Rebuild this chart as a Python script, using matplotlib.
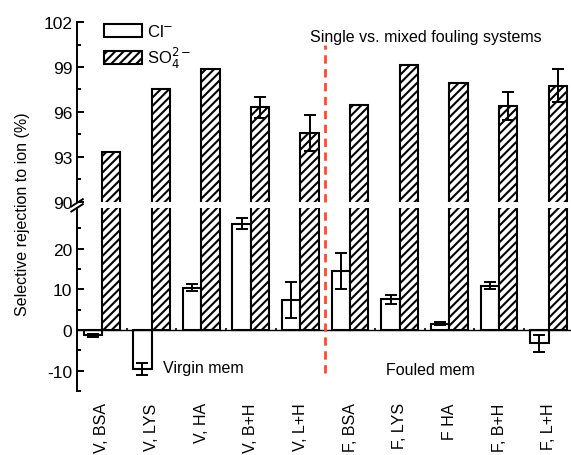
import numpy as np
import matplotlib
matplotlib.use('Agg')
import matplotlib.pyplot as plt
from matplotlib.lines import Line2D

labels = ['V, BSA', 'V, LYS', 'V, HA', 'V, B+H', 'V, L+H',
          'F, BSA', 'F, LYS', 'F HA', 'F, B+H', 'F, L+H']
cl = [-1.3, -9.6, 10.4, 26.1, 7.4, 14.4, 7.6, 1.6, 10.9, -3.3]
cl_err = [0.3, 1.4, 0.9, 1.4, 4.4, 4.4, 1.1, 0.3, 0.8, 2.2]
so4 = [93.35, 97.55, 98.9, 96.3, 94.6, 96.45, 99.15, 97.95, 96.4, 97.75]
so4_err = [0, 0, 0, 0.7, 1.2, 0, 0, 0, 0.95, 1.1]

plt.rcParams['font.family'] = ['Liberation Sans', 'DejaVu Sans']
plt.rcParams['hatch.linewidth'] = 1.5
plt.rcParams['axes.unicode_minus'] = False

fig = plt.figure(figsize=(5.71, 4.56), dpi=100)
ax1 = fig.add_axes([0.135, 0.555, 0.865, 0.3945])
ax2 = fig.add_axes([0.135, 0.140, 0.865, 0.402])

x = np.arange(len(labels))
w = 0.37
ekw = dict(elinewidth=1.4, capthick=1.4)

for ax in (ax1, ax2):
    ax.bar(x - w / 2, cl, w, yerr=cl_err, capsize=4.5, error_kw=ekw,
           color='white', edgecolor='black', linewidth=1.5, label='Cl$^{-}$')
    ax.bar(x + w / 2, so4, w, yerr=so4_err, capsize=4.5, error_kw=ekw,
           color='white', edgecolor='black', linewidth=1.5, hatch='////',
           label='SO$_4^{2-}$')
    ax.set_xlim(-0.5, 9.45)
    for s in ['top', 'right', 'bottom']:
        ax.spines[s].set_visible(False)
    ax.spines['left'].set_linewidth(1.4)
    ax.tick_params(axis='y', which='major', direction='in', length=5, width=1.4, labelsize=12.5)
    ax.tick_params(axis='y', which='minor', direction='in', length=3, width=1.4)

ax1.set_ylim(90, 102)
ax1.set_yticks([90, 93, 96, 99, 102])
ax1.set_yticks(np.arange(91.5, 102, 3), minor=True)
ax1.set_xticks([])

ax2.set_ylim(-15, 30)
ax2.set_yticks([-10, 0, 10, 20])
ax2.set_yticks([-15, -5, 5, 15, 25], minor=True)
ax2.set_xticks(x)
ax2.set_xticklabels(labels, rotation=90, fontsize=11.5)
ax2.tick_params(axis='x', length=0, pad=8)
ax2.axhline(0, color='black', lw=1.0)
ax2.vlines(x[:-1] + 0.5, 0, 0.6, color='black', lw=1.2)

# divider between virgin and fouled membranes
ax1.plot([4.5, 4.5], [90, 100.45], color='#ff4a2a', lw=2, ls=(0, (3, 2)), clip_on=False)
ax2.plot([4.5, 4.5], [-10.6, 30], color='#ff4a2a', lw=2, ls=(0, (3, 2)))

ax1.text(4.2, 101.05, 'Single vs. mixed fouling systems', fontsize=11.5, va='center')
ax2.text(1.23, -9.1, 'Virgin mem', fontsize=11.5, va='center')
ax2.text(5.72, -9.6, 'Fouled mem', fontsize=11.5, va='center')

ax1.legend(loc='upper left', bbox_to_anchor=(0.04, 1.03), frameon=False, fontsize=12,
           handlelength=2.3, handleheight=0.8, handletextpad=0.3, labelspacing=0.35,
           borderaxespad=0)

fig.text(0.04, 0.53, 'Selective rejection to ion (%)', rotation=90,
         ha='center', va='center', fontsize=11.5)

# axis break marks
for yb in (0.553, 0.542):
    fig.add_artist(Line2D([0.125, 0.145], [yb - 0.008, yb + 0.008],
                          color='black', lw=1.4))

fig.savefig('out.png', dpi=100)
